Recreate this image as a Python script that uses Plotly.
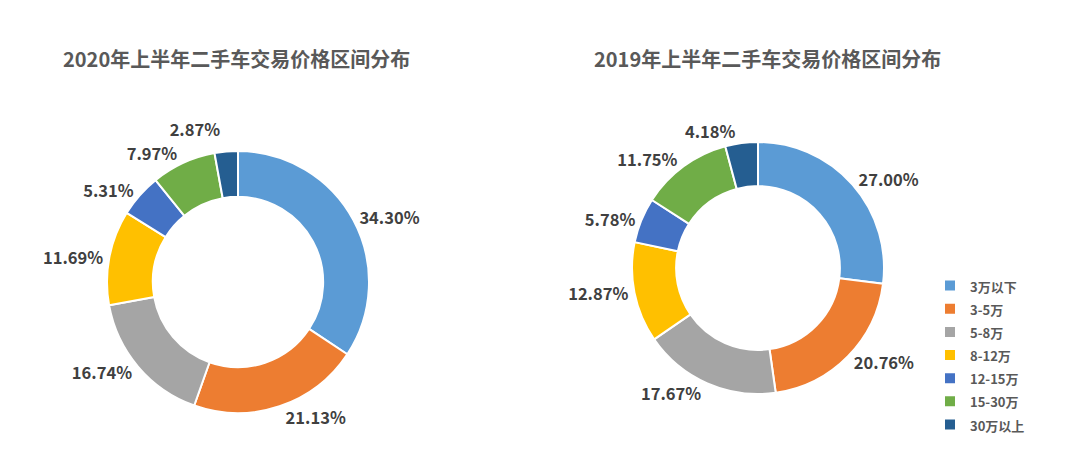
import plotly.graph_objects as go

categories = ["3万以下", "3-5万", "5-8万", "8-12万", "12-15万", "15-30万", "30万以上"]
values_2020 = [34.30, 21.13, 16.74, 11.69, 5.31, 7.97, 2.87]
values_2019 = [27.00, 20.76, 17.67, 12.87, 5.78, 11.75, 4.18]
colors = ["#5B9BD5", "#ED7D31", "#A5A5A5", "#FFC000", "#4472C4", "#70AD47", "#255E91"]
title_2020 = "2020年上半年二手车交易价格区间分布"
title_2019 = "2019年上半年二手车交易价格区间分布"

# page body has an 8px margin; lay the figure out in screen pixels
OX, OY = 8, 8
W, H = 1064, 454
FONT = "Noto Sans CJK SC, Noto Sans, sans-serif"


def px(x):
    return (x - OX) / W


def py(y):
    return 1 - (y - OY) / H


def dom(cx, cy, r):
    return dict(x=[px(cx - r), px(cx + r)], y=[py(cy + r), py(cy - r)])


legend_labels = ["<span style='font-size:13px'><b>%s</b></span>" % c for c in categories]

common = dict(
    labels=legend_labels,
    hole=0.65,
    sort=False,
    direction="clockwise",
    rotation=0,
    marker=dict(colors=colors, line=dict(color="white", width=2)),
    texttemplate="<span style='fill-opacity:1;color:#404040'><b>%{value:.2f}%</b></span>",
    textposition="outside",
    textfont=dict(size=16.5, color="rgba(0,0,0,0)", family=FONT),
    hovertemplate="%{label}: %{value:.2f}%<extra></extra>",
)

fig = go.Figure()
fig.add_trace(go.Pie(values=values_2020, domain=dom(238, 282, 131), showlegend=True, name="2020", **common))
fig.add_trace(go.Pie(values=values_2019, domain=dom(758, 268, 126), showlegend=False, name="2019", **common))

fig.update_layout(
    width=W, height=H,
    margin=dict(l=0, r=0, t=0, b=0),
    paper_bgcolor="white",
    font=dict(family=FONT),
    legend=dict(
        x=px(930), y=py(269), xanchor="left", yanchor="top",
        font=dict(size=15.5, color="#595959", family=FONT),
        itemwidth=30, tracegroupgap=0, traceorder="normal",
    ),
    annotations=[
        dict(text="<b>" + title_2020 + "</b>", x=px(236), y=py(59), xref="paper", yref="paper",
             xanchor="center", yanchor="middle",
             showarrow=False, font=dict(size=20, color="#595959", family=FONT)),
        dict(text="<b>" + title_2019 + "</b>", x=px(767), y=py(59), xref="paper", yref="paper",
             xanchor="center", yanchor="middle",
             showarrow=False, font=dict(size=20, color="#595959", family=FONT)),
    ],
)

fig.write_html("out.html")
